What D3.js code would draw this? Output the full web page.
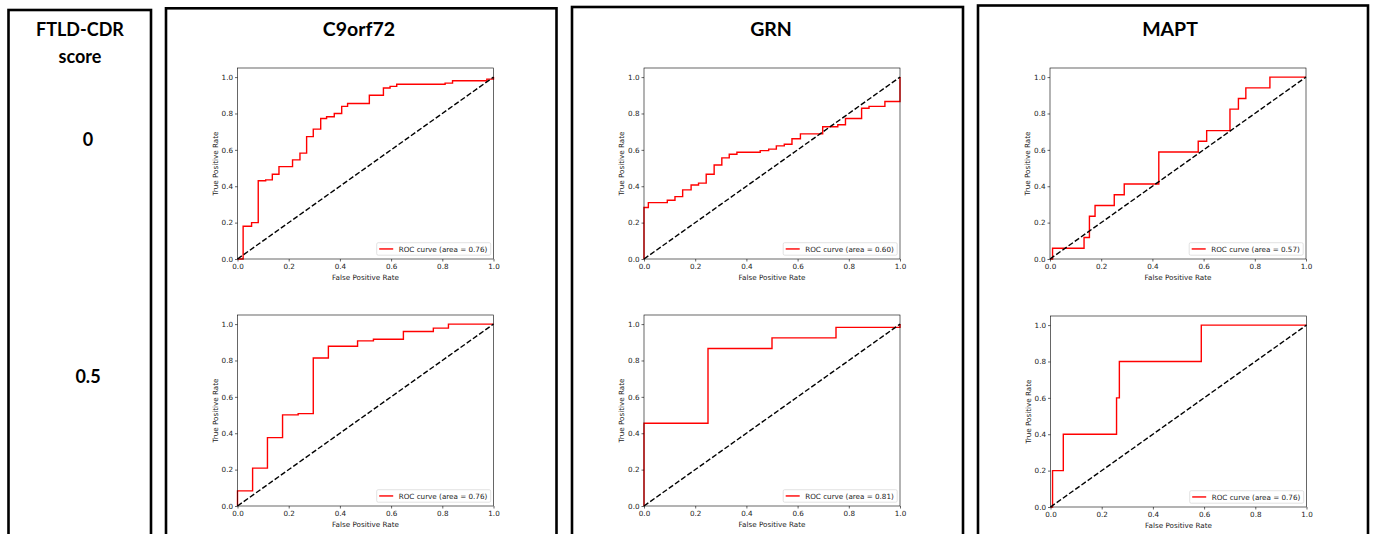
<!DOCTYPE html>
<html>
<head>
<meta charset="utf-8">
<script src="https://cdn.jsdelivr.net/npm/d3@7"></script>
<style>
  html, body { margin: 0; padding: 0; background: #fff; }
  svg { display: block; }
</style>
</head>
<body>
<svg id="chart" width="1375" height="534"></svg>
<script>
// column and row headers
const genes = ["C9orf72", "GRN", "MAPT"];
const cdrScores = ["0", "0.5"];
const tickValues = [0, 0.2, 0.4, 0.6, 0.8, 1.0];

// ROC curves (fpr / tpr pairs)
const c9_0_fpr = [0, 0.022, 0.022, 0.055, 0.055, 0.081, 0.081, 0.11, 0.11, 0.136, 0.136, 0.162, 0.162, 0.215, 0.215, 0.244, 0.244, 0.27, 0.27, 0.296, 0.296, 0.325, 0.325, 0.348, 0.348, 0.378, 0.378, 0.407, 0.407, 0.43, 0.43, 0.515, 0.515, 0.57, 0.57, 0.596, 0.596, 0.622, 0.622, 0.811, 0.811, 0.84, 0.84, 0.974, 0.974, 1.0, 1.0];
const c9_0_tpr = [0, 0, 0.18, 0.18, 0.20, 0.20, 0.43, 0.43, 0.435, 0.435, 0.466, 0.466, 0.508, 0.508, 0.545, 0.545, 0.582, 0.582, 0.673, 0.673, 0.714, 0.714, 0.772, 0.772, 0.782, 0.782, 0.80, 0.80, 0.839, 0.839, 0.855, 0.855, 0.90, 0.90, 0.94, 0.94, 0.949, 0.949, 0.961, 0.961, 0.967, 0.967, 0.98, 0.98, 0.989, 0.989, 1.0];
const c9_0_auc = "0.76";

const grn_0_fpr = [0, 0, 0.017, 0.017, 0.091, 0.091, 0.121, 0.121, 0.151, 0.151, 0.184, 0.184, 0.213, 0.213, 0.243, 0.243, 0.274, 0.274, 0.304, 0.304, 0.333, 0.333, 0.363, 0.363, 0.454, 0.454, 0.487, 0.487, 0.517, 0.517, 0.548, 0.548, 0.578, 0.578, 0.611, 0.611, 0.698, 0.698, 0.757, 0.757, 0.787, 0.787, 0.85, 0.85, 0.879, 0.879, 0.941, 0.941, 1.0, 1.0];
const grn_0_tpr = [0, 0.283, 0.283, 0.31, 0.31, 0.323, 0.323, 0.343, 0.343, 0.38, 0.38, 0.407, 0.407, 0.417, 0.417, 0.466, 0.466, 0.517, 0.517, 0.556, 0.556, 0.576, 0.576, 0.587, 0.587, 0.596, 0.596, 0.604, 0.604, 0.622, 0.622, 0.631, 0.631, 0.661, 0.661, 0.688, 0.688, 0.727, 0.727, 0.738, 0.738, 0.772, 0.772, 0.829, 0.829, 0.839, 0.839, 0.866, 0.866, 1.0];
const grn_0_auc = "0.60";

const mapt_0_fpr = [0, 0.01, 0.01, 0.133, 0.133, 0.154, 0.154, 0.176, 0.176, 0.251, 0.251, 0.29, 0.29, 0.425, 0.425, 0.579, 0.579, 0.612, 0.612, 0.703, 0.703, 0.736, 0.736, 0.765, 0.765, 0.859, 0.859, 1.0];
const mapt_0_tpr = [0, 0, 0.059, 0.059, 0.118, 0.118, 0.235, 0.235, 0.294, 0.294, 0.353, 0.353, 0.412, 0.412, 0.588, 0.588, 0.647, 0.647, 0.706, 0.706, 0.824, 0.824, 0.882, 0.882, 0.941, 0.941, 1.0, 1.0];
const mapt_0_auc = "0.57";

const c9_05_fpr = [0, 0, 0.059, 0.059, 0.117, 0.117, 0.176, 0.176, 0.237, 0.237, 0.296, 0.296, 0.355, 0.355, 0.469, 0.469, 0.531, 0.531, 0.648, 0.648, 0.765, 0.765, 0.824, 0.824, 1.0];
const c9_05_tpr = [0, 0.083, 0.083, 0.208, 0.208, 0.376, 0.376, 0.501, 0.501, 0.508, 0.508, 0.814, 0.814, 0.878, 0.878, 0.908, 0.908, 0.917, 0.917, 0.959, 0.959, 0.978, 0.978, 1.0, 1.0];
const c9_05_auc = "0.76";

const grn_05_fpr = [0, 0, 0.25, 0.25, 0.5, 0.5, 0.75, 0.75, 1.0, 1.0];
const grn_05_tpr = [0, 0.455, 0.455, 0.866, 0.866, 0.924, 0.924, 0.982, 0.982, 1.0];
const grn_05_auc = "0.81";

const mapt_05_fpr = [0, 0.008, 0.008, 0.05, 0.05, 0.258, 0.258, 0.269, 0.269, 0.589, 0.589, 1.0];
const mapt_05_tpr = [0, 0, 0.2, 0.2, 0.4, 0.4, 0.6, 0.6, 0.8, 0.8, 1.0, 1.0];
const mapt_05_auc = "0.76";

const curves = [
  [ {fpr: c9_0_fpr, tpr: c9_0_tpr, auc: c9_0_auc},
    {fpr: grn_0_fpr, tpr: grn_0_tpr, auc: grn_0_auc},
    {fpr: mapt_0_fpr, tpr: mapt_0_tpr, auc: mapt_0_auc} ],
  [ {fpr: c9_05_fpr, tpr: c9_05_tpr, auc: c9_05_auc},
    {fpr: grn_05_fpr, tpr: grn_05_tpr, auc: grn_05_auc},
    {fpr: mapt_05_fpr, tpr: mapt_05_tpr, auc: mapt_05_auc} ]
];

// layout
const headFont = "Lato, 'Open Sans', sans-serif";
const plotFont = "'DejaVu Sans', sans-serif";
const axW = 256, axH = 191;
const axLeft = [[237.5, 644, 1050], [237.5, 644, 1050.5]];
const axTop = [[68, 68, 68], [315, 315, 316]];
const geneX = [359, 771, 1170];
const boxes = [
  {x: 8.5, y: 10, w: 142.5},
  {x: 166, y: 8.3, w: 390.5},
  {x: 572, y: 7, w: 391},
  {x: 978, y: 5.5, w: 390}
];

const svg = d3.select("#chart");

// outer boxes (they run past the bottom of the picture)
svg.append("g")
    .selectAll("rect")
    .data(boxes)
    .join("rect")
    .attr("x", d => d.x)
    .attr("y", d => d.y)
    .attr("width", d => d.w)
    .attr("height", 600)
    .attr("fill", "none")
    .attr("stroke", "#000")
    .attr("stroke-width", 2.6);

// headers
const head = svg.append("g")
    .attr("font-family", headFont)
    .attr("font-weight", "bold")
    .attr("font-size", 18)
    .attr("text-anchor", "middle")
    .attr("fill", "#000");

head.append("text").attr("x", 80).attr("y", 36).text("FTLD-CDR");
head.append("text").attr("x", 80).attr("y", 63).text("score");

head.selectAll("text.gene")
    .data(genes)
    .join("text")
    .attr("class", "gene")
    .attr("x", (d, i) => geneX[i])
    .attr("y", 36)
    .attr("font-size", 19.5)
    .text(d => d);

head.selectAll("text.score")
    .data(cdrScores)
    .join("text")
    .attr("class", "score")
    .attr("x", 88)
    .attr("y", (d, i) => i == 0 ? 146 : 383)
    .text(d => d);

function drawPanel(g, c) {
    const x = d3.scaleLinear().domain([0, 1]).range([0, axW]);
    const y = d3.scaleLinear().domain([0, 1.05]).range([axH, 0]);

    g.append("rect")
        .attr("width", axW).attr("height", axH)
        .attr("fill", "#fff");

    // red roc curve
    const pts = d3.zip(c.fpr, c.tpr);
    const line = d3.line().x(d => x(d[0])).y(d => y(d[1]));
    g.append("path")
        .datum(pts)
        .attr("fill", "none")
        .attr("stroke", "#ff0000")
        .attr("stroke-width", 1.4)
        .attr("stroke-linejoin", "miter")
        .attr("d", line);

    // chance diagonal
    g.append("path")
        .datum([[0, 0], [1, 1]])
        .attr("fill", "none")
        .attr("stroke", "#000")
        .attr("stroke-width", 1.4)
        .attr("stroke-dasharray", "5.3,2.3")
        .attr("d", line);

    // axes
    g.append("g")
        .attr("transform", `translate(0,${axH})`)
        .call(d3.axisBottom(x).tickValues(tickValues).tickFormat(d3.format(".1f"))
              .tickSize(2.5).tickPadding(2))
        .call(a => a.select(".domain").remove())
        .attr("font-family", plotFont)
        .attr("font-size", 7.2)
        .call(a => a.selectAll("line").attr("stroke", "#000").attr("stroke-width", 0.6))
        .call(a => a.selectAll("text").attr("fill", "#222"));

    g.append("g")
        .call(d3.axisLeft(y).tickValues(tickValues).tickFormat(d3.format(".1f"))
              .tickSize(2.5).tickPadding(2))
        .call(a => a.select(".domain").remove())
        .attr("font-family", plotFont)
        .attr("font-size", 7.2)
        .call(a => a.selectAll("line").attr("stroke", "#000").attr("stroke-width", 0.6))
        .call(a => a.selectAll("text").attr("fill", "#222"));

    g.append("rect")
        .attr("width", axW).attr("height", axH)
        .attr("fill", "none")
        .attr("stroke", "#000")
        .attr("stroke-width", 0.6);

    g.append("text")
        .attr("x", axW / 2).attr("y", axH + 21)
        .attr("text-anchor", "middle")
        .attr("font-family", plotFont).attr("font-size", 7.2)
        .attr("fill", "#222")
        .text("False Positive Rate");

    g.append("text")
        .attr("transform", `translate(-20,${axH / 2}) rotate(-90)`)
        .attr("text-anchor", "middle")
        .attr("font-family", plotFont).attr("font-size", 7.2)
        .attr("fill", "#222")
        .text("True Positive Rate");

    // legend
    const lw = 114, lh = 12.5;
    const lg = g.append("g")
        .attr("transform", `translate(${axW - 2.8 - lw},${axH - 3.8 - lh})`);
    lg.append("rect")
        .attr("width", lw).attr("height", lh)
        .attr("rx", 1.5)
        .attr("fill", "#fff").attr("fill-opacity", 0.8)
        .attr("stroke", "#d0d0d0").attr("stroke-width", 0.6);
    lg.append("line")
        .attr("x1", 2.5).attr("x2", 16.5)
        .attr("y1", lh / 2).attr("y2", lh / 2)
        .attr("stroke", "#ff0000").attr("stroke-width", 1.4);
    lg.append("text")
        .attr("x", 22).attr("y", lh / 2 + 2.6)
        .attr("font-family", plotFont).attr("font-size", 7.2)
        .attr("fill", "#222")
        .text(`ROC curve (area = ${c.auc})`);
}

curves.forEach((row, r) => {
    row.forEach((c, k) => {
        const g = svg.append("g")
            .attr("transform", `translate(${axLeft[r][k]},${axTop[r][k]})`);
        drawPanel(g, c);
    });
});
</script>
</body>
</html>
